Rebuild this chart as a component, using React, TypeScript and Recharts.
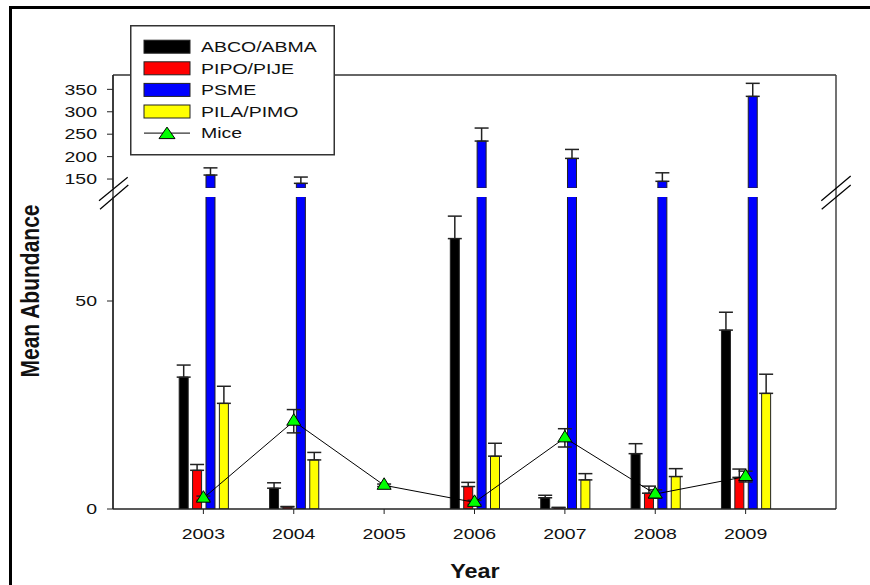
import { ComposedChart, Bar, Line, XAxis, YAxis, ErrorBar, Legend } from 'recharts';

const FONT = '"Liberation Sans", Arial, sans-serif';

// data
const years = [2003, 2004, 2005, 2006, 2007, 2008, 2009];
const abco = [31.7, 5.0, null, 65.0, 2.7, 13.3, 43.0];
const abcoErr = [2.9, 1.3, null, 5.4, 0.6, 2.4, 4.3];
const pipo = [9.3, 0.5, null, 5.4, 0.3, 3.8, 7.6];
const pipoErr = [1.4, 0.1, null, 1.0, 0.1, 1.7, 2.0];
const psme = [158.9, 140.4, null, 234.7, 196.0, 144.9, 334.4];
const psmeErr = [16, 14, null, 29, 20, 19, 29];
const pila = [25.4, 11.8, null, 12.7, 7.0, 7.8, 27.8];
const pilaErr = [4.1, 1.8, null, 3.1, 1.5, 1.9, 4.6];
const mice = [2.6, 21.1, 5.7, 1.6, 17.1, 3.6, 7.8];
const miceErr = [0.5, 2.8, 0.3, 0.5, 2.2, 1.0, 1.3];

const seriesNames = ['ABCO/ABMA', 'PIPO/PIJE', 'PSME', 'PILA/PIMO', 'Mice'];
const lowerTicks = [0, 50];
const upperTicks = [150, 200, 250, 300, 350];

const COLORS = ['#000000', '#ff0000', '#0000ff', '#ffff00'];
const MICE_FILL = '#00ff00';

const upErr = (e: number | null) => (e == null ? null : [0, e]);

const rows = years.map((year, i) => ({
  year,
  abco: abco[i],
  abcoErr: upErr(abcoErr[i]),
  pipo: pipo[i],
  pipoErr: upErr(pipoErr[i]),
  psme: psme[i],
  pila: pila[i],
  pilaErr: upErr(pilaErr[i]),
  mice: mice[i],
  miceErr: miceErr[i],
}));

const upperRows = years.map((year, i) => ({
  year,
  psme: psme[i],
  psmeErr: upErr(psmeErr[i]),
}));

const YTick = ({ x, y, payload }: any) => (
  <g transform={`translate(${x},${y})`}>
    <text transform="scale(1.3,1)" textAnchor="end" dy={5.3} fontSize={15} fontFamily={FONT} fill="#111">
      {payload.value}
    </text>
  </g>
);

const XTick = ({ x, y, payload }: any) => (
  <g transform={`translate(${x},${y})`}>
    <text transform="scale(1.3,1)" textAnchor="middle" dy={19} fontSize={15} fontFamily={FONT} fill="#111">
      {payload.value}
    </text>
  </g>
);

const Triangle = ({ cx, cy, w = 7 }: any) => {
  if (cx == null || cy == null) return null;
  return (
    <path
      d={`M${cx},${cy - 7.5} L${cx + w},${cy + 4} L${cx - w},${cy + 4} Z`}
      fill={MICE_FILL}
      stroke="#000"
      strokeWidth={1}
    />
  );
};

const renderLegend = () => (
  <svg width={205} height={131}>
    <rect x={0.75} y={0.75} width={203.5} height={129} fill="#fff" stroke="#333" strokeWidth={1.5} />
    {seriesNames.map((name, i) => {
      const cy = 21.7 + i * 21.6;
      return (
        <g key={name}>
          {i < 4 ? (
            <rect x={14} y={cy - 6.5} width={46} height={13} fill={COLORS[i]} stroke="#222" strokeWidth={1} />
          ) : (
            <g>
              <line x1={14} y1={cy} x2={60} y2={cy} stroke="#000" strokeWidth={1} />
              <Triangle cx={37} cy={cy + 1.5} w={8} />
            </g>
          )}
          <g transform={`translate(71,${cy})`}>
            <text transform="scale(1.3,1)" dy={5.3} fontSize={15} fontFamily={FONT} fill="#111">
              {name}
            </text>
          </g>
        </g>
      );
    })}
  </svg>
);

const barProps = { barSize: 9, stroke: '#222', strokeWidth: 1, isAnimationActive: false };
const errProps = { width: 7, stroke: '#222', strokeWidth: 1.5, direction: 'y' as const };

export default function App() {
  return (
    <div
      style={{
        position: 'absolute',
        left: 0,
        top: 0,
        width: 870,
        height: 585,
        overflow: 'hidden',
        background: '#fff',
        fontFamily: FONT,
      }}
    >
      <div
        style={{
          position: 'absolute',
          left: 9,
          top: 6,
          width: 900,
          height: 600,
          borderLeft: '3px solid #000',
          borderTop: '3px solid #000',
        }}
      />

      {/* frame, axis breaks and titles */}
      <svg style={{ position: 'absolute', left: 0, top: 0 }} width={870} height={585}>
        <line x1={113} y1={75} x2={836} y2={75} stroke="#333" strokeWidth={1.3} />
        <line x1={836} y1={75} x2={836} y2={509} stroke="#444" strokeWidth={1.5} />
        <line x1={113} y1={75} x2={113} y2={509} stroke="#222" strokeWidth={1.3} />
        <line x1={99} y1={200.7} x2={127.7} y2={177.3} stroke="#000" strokeWidth={1.2} />
        <line x1={100} y1={209.3} x2={128.3} y2={185} stroke="#000" strokeWidth={1.2} />
        <line x1={821.3} y1={200.7} x2={850.7} y2={176} stroke="#000" strokeWidth={1.2} />
        <line x1={821.7} y1={209.3} x2={850.7} y2={185} stroke="#000" strokeWidth={1.2} />
        <g transform="translate(39,291) scale(1.25,1) rotate(-90)">
          <text textAnchor="middle" fontSize={21} fontWeight="bold" fontFamily={FONT} fill="#111">
            Mean Abundance
          </text>
        </g>
        <g transform="translate(475,578) scale(1.2,1)">
          <text textAnchor="middle" fontSize={19.5} fontWeight="bold" fontFamily={FONT} fill="#111">
            Year
          </text>
        </g>
      </svg>

      {/* upper segment of the broken axis */}
      <div style={{ position: 'absolute', left: 0, top: 0 }}>
        <ComposedChart
          width={870}
          height={188}
          data={upperRows}
          margin={{ top: 75, right: 34, bottom: 0, left: 53 }}
          barGap={4.4}
        >
          <XAxis type="number" dataKey="year" domain={[2002, 2010]} ticks={years} hide allowDataOverflow />
          <YAxis
            type="number"
            domain={[130, 382]}
            ticks={upperTicks}
            interval={0}
            allowDataOverflow
            width={60}
            tickSize={6}
            tickMargin={10}
            tick={<YTick />}
            axisLine={{ stroke: '#222', strokeWidth: 1.3 }}
            tickLine={{ stroke: '#222' }}
          />
          <Bar dataKey="abco" fill={COLORS[0]} {...barProps} />
          <Bar dataKey="pipo" fill={COLORS[1]} {...barProps} />
          <Bar dataKey="psme" fill={COLORS[2]} {...barProps}>
            <ErrorBar dataKey="psmeErr" {...errProps} />
          </Bar>
          <Bar dataKey="pila" fill={COLORS[3]} {...barProps} />
        </ComposedChart>
      </div>

      {/* lower segment */}
      <div style={{ position: 'absolute', left: 0, top: 0 }}>
        <ComposedChart
          width={870}
          height={585}
          data={rows}
          margin={{ top: 197, right: 34, bottom: 36, left: 53 }}
          barGap={4.4}
        >
          <XAxis
            type="number"
            dataKey="year"
            domain={[2002, 2010]}
            ticks={years}
            interval={0}
            allowDataOverflow
            height={40}
            tickSize={5}
            tickMargin={6}
            tick={<XTick />}
            axisLine={{ stroke: '#222', strokeWidth: 1.3 }}
            tickLine={{ stroke: '#222' }}
          />
          <YAxis
            type="number"
            domain={[0, 75]}
            ticks={lowerTicks}
            interval={0}
            allowDataOverflow
            width={60}
            tickSize={6}
            tickMargin={10}
            tick={<YTick />}
            axisLine={{ stroke: '#222', strokeWidth: 1.3 }}
            tickLine={{ stroke: '#222' }}
          />
          <Bar dataKey="abco" fill={COLORS[0]} {...barProps}>
            <ErrorBar dataKey="abcoErr" {...errProps} />
          </Bar>
          <Bar dataKey="pipo" fill={COLORS[1]} {...barProps}>
            <ErrorBar dataKey="pipoErr" {...errProps} />
          </Bar>
          <Bar dataKey="psme" fill={COLORS[2]} {...barProps} />
          <Bar dataKey="pila" fill={COLORS[3]} {...barProps}>
            <ErrorBar dataKey="pilaErr" {...errProps} />
          </Bar>
          <Line
            dataKey="mice"
            stroke="#000"
            strokeWidth={1}
            isAnimationActive={false}
            dot={(p: any) => <Triangle key={`m-${p.index}`} cx={p.cx} cy={p.cy} />}
            activeDot={false}
          >
            <ErrorBar dataKey="miceErr" {...errProps} />
          </Line>
          <Legend
            layout="vertical"
            align="center"
            verticalAlign="middle"
            wrapperStyle={{ left: 130, top: 25, width: 205, height: 131 }}
            content={renderLegend}
          />
        </ComposedChart>
      </div>
    </div>
  );
}
